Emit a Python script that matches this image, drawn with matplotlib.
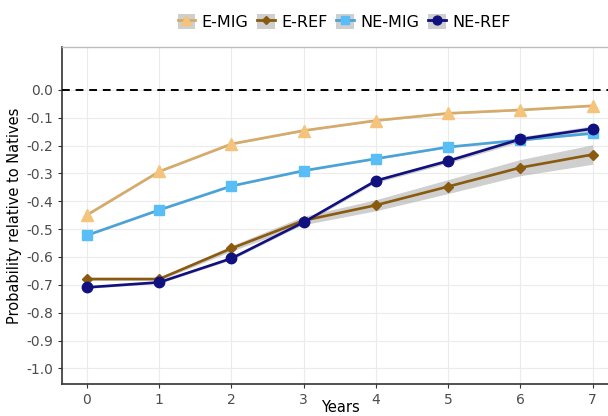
import matplotlib
matplotlib.use("Agg")
import matplotlib.pyplot as plt
from matplotlib.lines import Line2D
from matplotlib.patches import Patch
from matplotlib.legend_handler import HandlerTuple
import numpy as np

years = [0, 1, 2, 3, 4, 5, 6, 7]
e_mig = [-0.449, -0.293, -0.194, -0.146, -0.110, -0.084, -0.072, -0.057]
e_ref = [-0.679, -0.679, -0.569, -0.469, -0.414, -0.347, -0.279, -0.232]
ne_mig = [-0.522, -0.431, -0.345, -0.290, -0.247, -0.205, -0.180, -0.156]
ne_ref = [-0.709, -0.691, -0.605, -0.475, -0.326, -0.255, -0.177, -0.139]
e_ref_ci = [0.005, 0.005, 0.010, 0.015, 0.020, 0.025, 0.029, 0.035]
ne_ref_ci = [0.004, 0.004, 0.005, 0.006, 0.007, 0.008, 0.009, 0.010]
e_mig_ci = [0.003, 0.003, 0.003, 0.003, 0.003, 0.003, 0.003, 0.003]
ne_mig_ci = [0.003, 0.003, 0.003, 0.003, 0.003, 0.003, 0.003, 0.003]
labels = ["E-MIG", "E-REF", "NE-MIG", "NE-REF"]
yticks = [0.0, -0.1, -0.2, -0.3, -0.4, -0.5, -0.6, -0.7, -0.8, -0.9, -1.0]

W, H = 608, 416
fig = plt.figure(figsize=(W / 100, H / 100), dpi=100)
ax = fig.add_axes([62 / W, 1 - 384 / H, (618 - 62) / W, (384 - 47) / H])

ax.set_xlim(-0.346, 7.35)
ax.set_ylim(-1.056, 0.154)

series = [
    (e_mig, e_mig_ci, "#D6AA68", "#F4C47C", "^", 8.5),
    (e_ref, e_ref_ci, "#8A5A0E", "#8A5A0E", "D", 5),
    (ne_mig, ne_mig_ci, "#4AA3D8", "#58BEF5", "s", 7),
    (ne_ref, ne_ref_ci, "#10107F", "#10107F", "o", 7.5),
]

x = np.array(years)
for vals, ci, lc, mc, mk, ms in series:
    v = np.array(vals)
    c = np.array(ci)
    ax.fill_between(x, v - c, v + c, color="#a0a0a0", alpha=0.5, lw=0, zorder=2)
for vals, ci, lc, mc, mk, ms in series:
    ax.plot(x, vals, color=lc, lw=1.9, zorder=3)
    ax.plot(x, vals, ls="none", marker=mk, ms=ms, color=mc, mec=mc, zorder=4)

ax.axhline(0.0, color="black", ls=(0, (4, 3)), lw=1.4, zorder=3)

ax.set_xticks(years)
ax.set_yticks(yticks)
ax.set_yticklabels([f"{t:.1f}" for t in yticks])
ax.grid(True, color="#ebebeb", lw=0.8, zorder=0)
ax.set_axisbelow(True)
for s in ["top", "right"]:
    ax.spines[s].set_color("#bdbdbd")
    ax.spines[s].set_linewidth(1.0)
for s in ["left", "bottom"]:
    ax.spines[s].set_color("#333333")
    ax.spines[s].set_linewidth(1.2)
ax.tick_params(colors="#333333", labelcolor="#4d4d4d", labelsize=10, length=3, width=0.8)

ax.set_ylabel("Probability relative to Natives", fontsize=10.5, color="black", labelpad=3)
ax.set_xlabel("Years", fontsize=10.5, color="black")
ax.xaxis.set_label_coords((340 - 62) / (618 - 62), -(408 - 384) / (384 - 47))
ax.xaxis.label.set_verticalalignment("center")

handles = []
for (vals, ci, lc, mc, mk, ms), lab in zip(series, labels):
    handles.append((Patch(facecolor="#cfcfcf", edgecolor="none"),
                    Line2D([], [], color=lc, lw=2.0, marker=mk, ms=ms * 0.85, mfc=mc, mec=mc)))
fig.legend(handles, labels, loc="center", bbox_to_anchor=(344 / W, 1 - 22 / H), ncol=4,
           frameon=False, fontsize=11.5, handlelength=1.1, handleheight=1.1,
           handletextpad=0.4, columnspacing=0.55,
           handler_map={tuple: HandlerTuple(ndivide=1, pad=0)})

fig.savefig("out.png", dpi=100)
